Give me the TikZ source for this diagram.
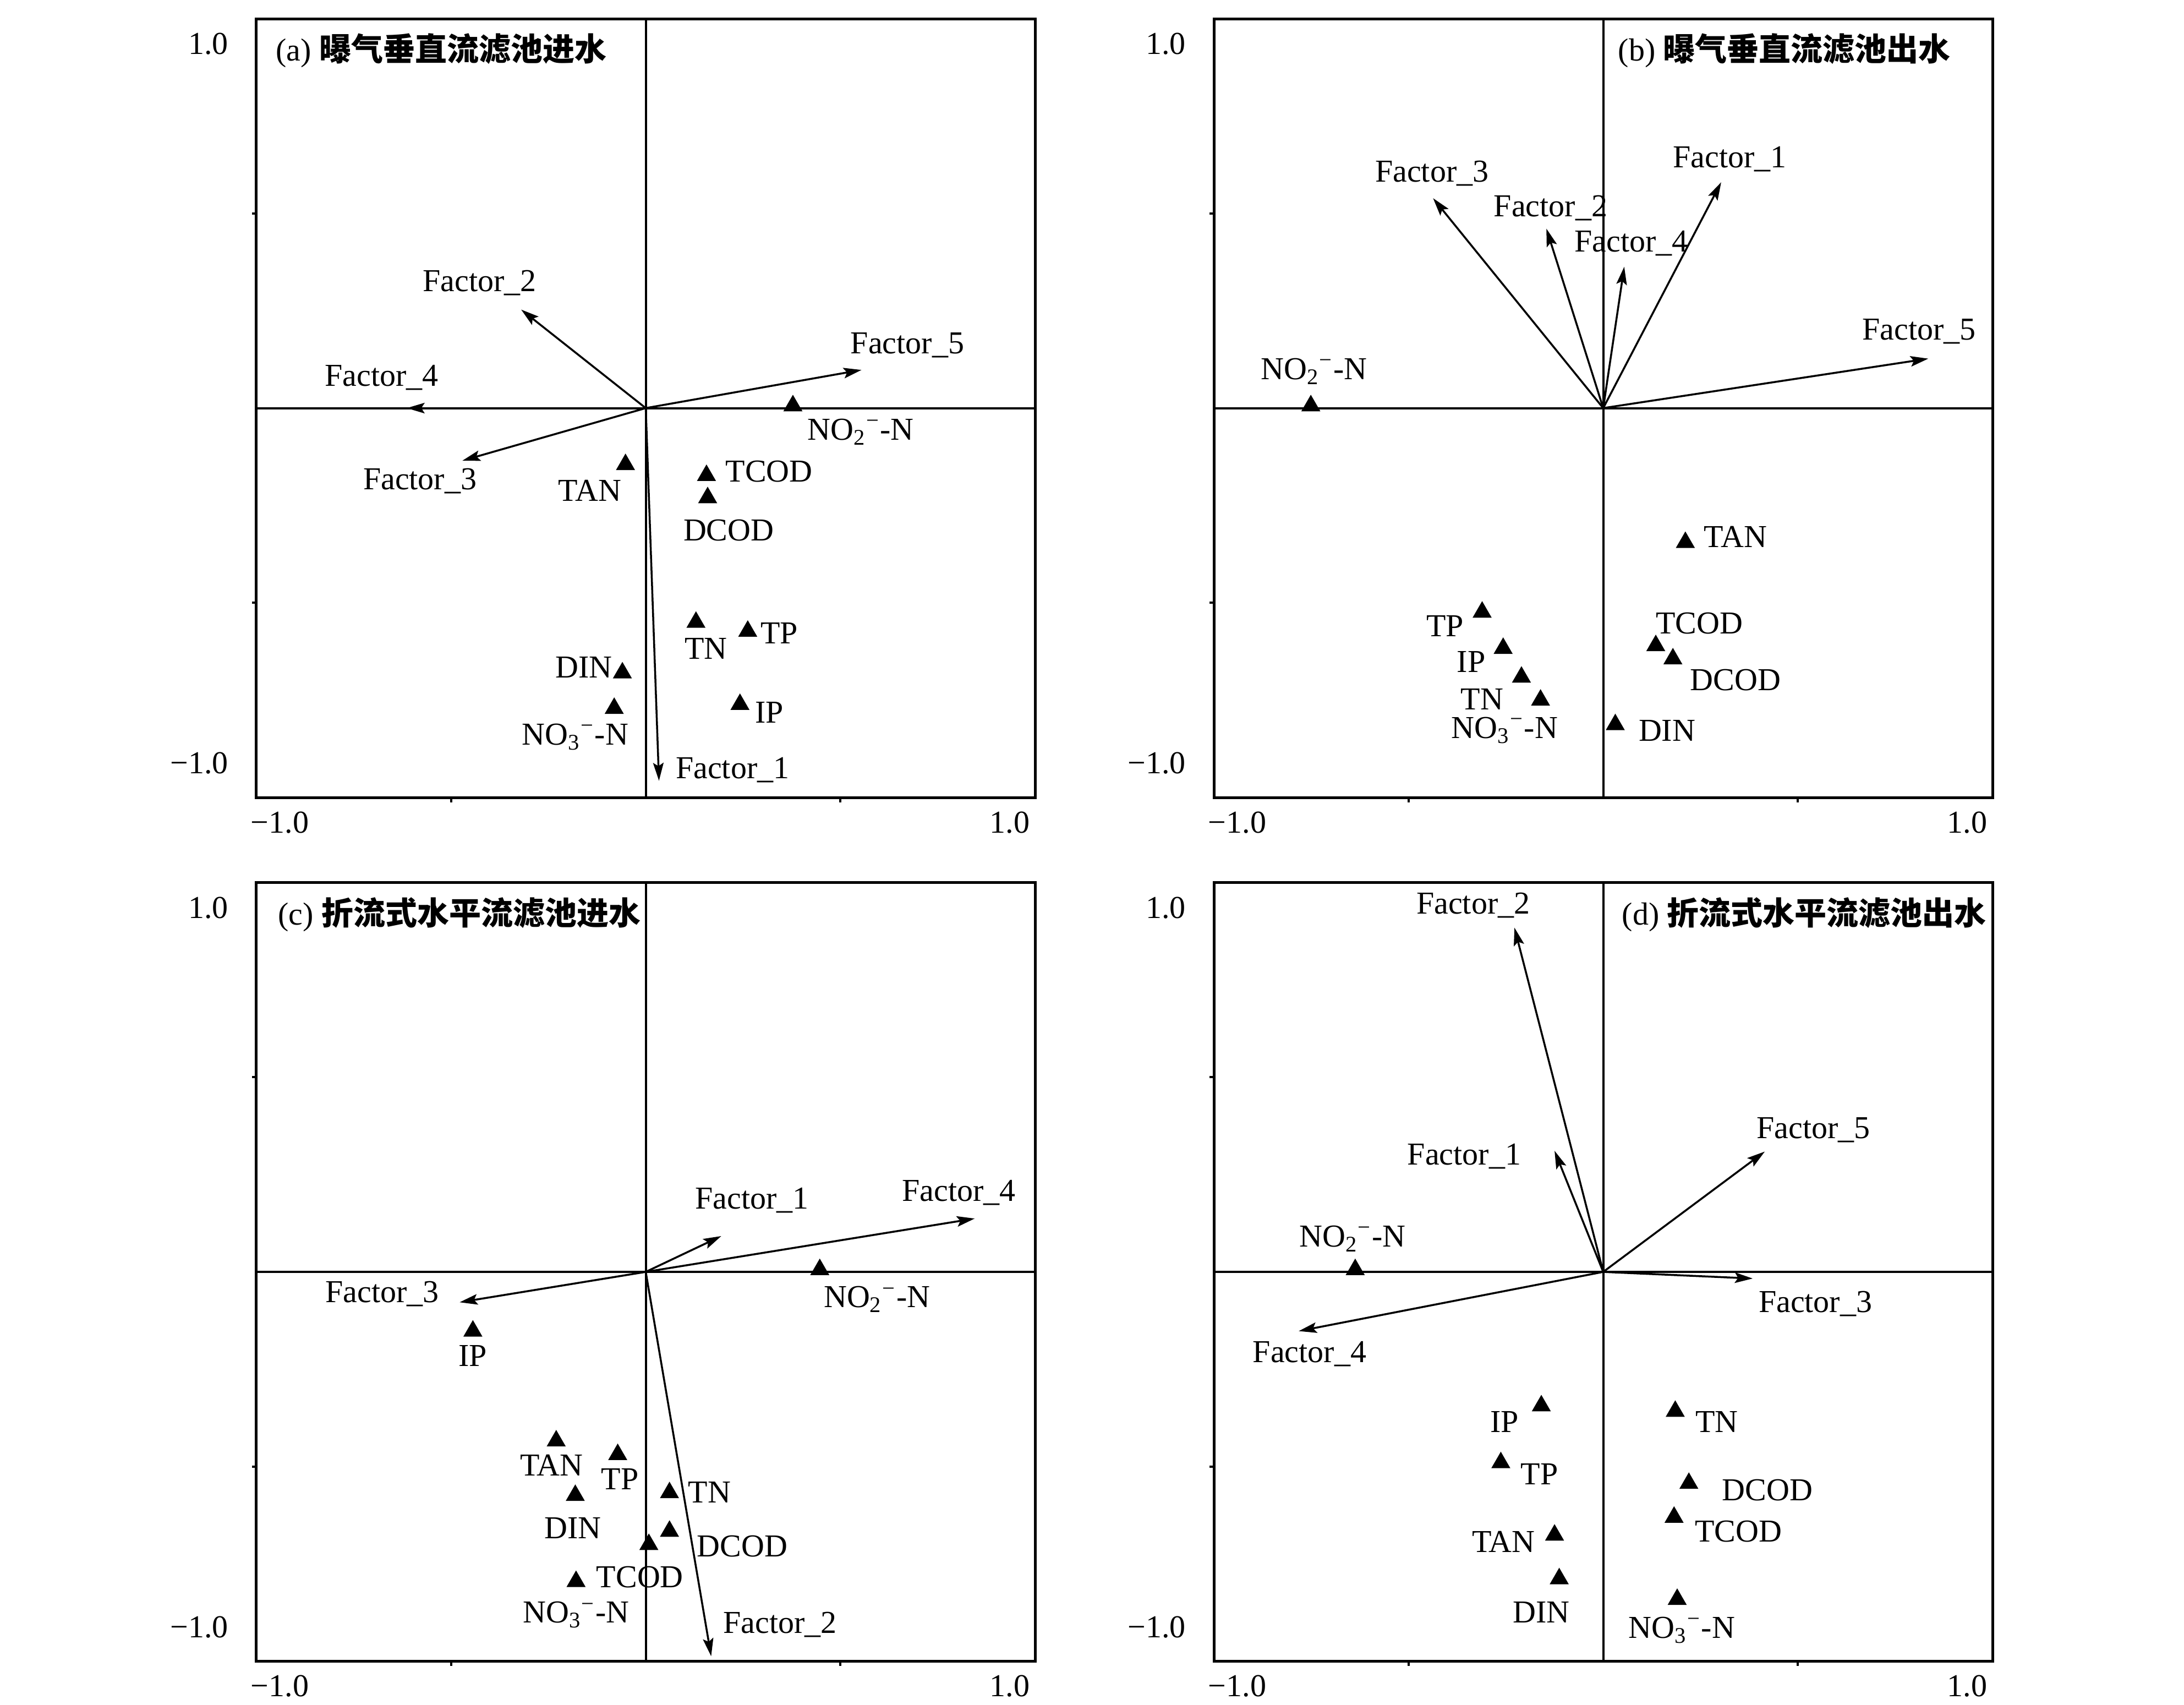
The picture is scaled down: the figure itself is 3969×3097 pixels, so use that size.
\documentclass[tikz,border=0pt]{standalone}
\usepackage{fontspec}
\setmainfont{Liberation Serif}
\newfontfamily\cjk{Noto Sans CJK SC}
\usetikzlibrary{shapes.geometric,arrows.meta}
\tikzset{
  frame/.style={line width=1.0pt},
  axisline/.style={line width=0.8pt},
  vec/.style={line width=0.7pt,-{Stealth[length=6.5pt,width=3.8pt,inset=1.2pt]}},
  tri/.style={regular polygon,regular polygon sides=3,fill=black,draw=none,inner sep=0pt,minimum size=8pt},
  lbl/.style={inner sep=0pt,font=\fontsize{11.6}{13}\selectfont},
  ticklbl/.style={inner sep=0pt,font=\fontsize{11.6}{13}\selectfont},
}
\newcommand\mkpt[6]{\node[tri] (#1) at (#2,#3) {}; \node[lbl] (#1l) at (#4,#5) {#6};}
\newcommand\mkvec[7]{\coordinate (#2) at (#3,#4); \draw[vec] (#1) -- (#2); \node[lbl] (#2l) at (#5,#6) {#7};}
\newcommand\panelframe[1]{%
  \draw[frame] (-1,-1) rectangle (1,1);
  \draw[axisline] (-1,0) -- (1,0);
  \draw[axisline] (0,-1) -- (0,1);
  \draw[axisline] (-1,0.5) -- (-1.012,0.5);
  \draw[axisline] (-1,-0.5) -- (-1.012,-0.5);
  \draw[axisline] (0.5,-1) -- (0.5,-1.012);
  \draw[axisline] (-0.5,-1) -- (-0.5,-1.012);
  \node[ticklbl,anchor=east] (#1t1) at (-1.071,0.935) {1.0};
  \node[ticklbl,anchor=east] (#1t2) at (-1.071,-0.912) {−1.0};
  \node[ticklbl] (#1t3) at (-0.94,-1.064) {−1.0};
  \node[ticklbl] (#1t4) at (0.935,-1.064) {1.0};
  \coordinate (#1O) at (0,0);
}
\newcommand\nodos[1]{NO\textsubscript{#1}\textsuperscript{−}-N}
\begin{document}
\begin{tikzpicture}[x=0.2pt,y=-0.2pt]
\useasboundingbox (0,0) rectangle (3969,3097);

% ---------- panel (a)
\begin{scope}[shift={(1173.5,741.5)},x=141.5pt,y=141.5pt]
\panelframe{a}
\node[lbl,anchor=west] (atitle) at (-0.951,0.918) {(a) {\cjk\bfseries 曝气垂直流滤池进水}};
\mkvec{aO}{aF2}{-0.320}{0.253}{-0.427}{0.321}{Factor\_2}
\mkvec{aO}{aF4}{-0.614}{0}{-0.678}{0.078}{Factor\_4}
\mkvec{aO}{aF3}{-0.471}{-0.135}{-0.580}{-0.187}{Factor\_3}
\mkvec{aO}{aF5}{0.554}{0.098}{0.672}{0.162}{Factor\_5}
\mkvec{aO}{aF1}{0.034}{-0.957}{0.223}{-0.929}{Factor\_1}
\mkpt{aNOb}{0.378}{0.006}{0.552}{-0.061}{\nodos{2}}
\mkpt{aTAN}{-0.052}{-0.145}{-0.144}{-0.212}{TAN}
\mkpt{aTCOD}{0.156}{-0.173}{0.317}{-0.162}{TCOD}
\mkpt{aDCOD}{0.159}{-0.230}{0.213}{-0.314}{DCOD}
\mkpt{aTN}{0.129}{-0.550}{0.155}{-0.617}{TN}
\mkpt{aTP}{0.262}{-0.573}{0.343}{-0.578}{TP}
\mkpt{aDIN}{-0.060}{-0.680}{-0.159}{-0.666}{DIN}
\mkpt{aIP}{0.242}{-0.761}{0.317}{-0.782}{IP}
\mkpt{aNOc}{-0.081}{-0.771}{-0.181}{-0.844}{\nodos{3}}
\end{scope}

% ---------- panel (b)
\begin{scope}[shift={(2913.5,741.5)},x=141.5pt,y=141.5pt]
\panelframe{b}
\node[lbl,anchor=west] (btitle) at (0.037,0.918) {(b) {\cjk\bfseries 曝气垂直流滤池出水}};
\mkvec{bO}{bF3}{-0.437}{0.539}{-0.440}{0.603}{Factor\_3}
\mkvec{bO}{bF2}{-0.146}{0.461}{-0.135}{0.514}{Factor\_2}
\mkvec{bO}{bF4}{0.054}{0.363}{0.072}{0.423}{Factor\_4}
\mkvec{bO}{bF1}{0.303}{0.580}{0.325}{0.640}{Factor\_1}
\mkvec{bO}{bF5}{0.835}{0.127}{0.811}{0.197}{Factor\_5}
\mkpt{bNOb}{-0.751}{0.006}{-0.743}{0.095}{\nodos{2}}
\mkpt{bTAN}{0.211}{-0.345}{0.340}{-0.331}{TAN}
\mkpt{bTP}{-0.311}{-0.524}{-0.406}{-0.559}{TP}
\mkpt{bTCOD}{0.135}{-0.610}{0.247}{-0.552}{TCOD}
\mkpt{bIP}{-0.257}{-0.617}{-0.339}{-0.651}{IP}
\mkpt{bDCOD}{0.179}{-0.644}{0.340}{-0.698}{DCOD}
\mkpt{bTN}{-0.210}{-0.691}{-0.311}{-0.747}{TN}
\mkpt{bNOc}{-0.161}{-0.750}{-0.253}{-0.827}{\nodos{3}}
\mkpt{bDIN}{0.031}{-0.813}{0.164}{-0.828}{DIN}
\end{scope}

% ---------- panel (c)
\begin{scope}[shift={(1173.5,2311)},x=141.5pt,y=141.5pt]
\panelframe{c}
\node[lbl,anchor=west] (ctitle) at (-0.946,0.918) {(c) {\cjk\bfseries 折流式水平流滤池进水}};
\mkvec{cO}{cF1}{0.194}{0.092}{0.273}{0.183}{Factor\_1}
\mkvec{cO}{cF4}{0.845}{0.137}{0.804}{0.204}{Factor\_4}
\mkvec{cO}{cF3}{-0.478}{-0.078}{-0.677}{-0.057}{Factor\_3}
\mkvec{cO}{cF2}{0.168}{-0.987}{0.345}{-0.906}{Factor\_2}
\mkpt{cNOb}{0.447}{0.006}{0.594}{-0.071}{\nodos{2}}
\mkpt{cIP}{-0.444}{-0.152}{-0.444}{-0.215}{IP}
\mkpt{cTAN}{-0.230}{-0.434}{-0.242}{-0.496}{TAN}
\mkpt{cTP}{-0.072}{-0.469}{-0.066}{-0.532}{TP}
\mkpt{cTN}{0.061}{-0.567}{0.164}{-0.566}{TN}
\mkpt{cDIN}{-0.181}{-0.574}{-0.187}{-0.658}{DIN}
\mkpt{cDCOD}{0.061}{-0.666}{0.248}{-0.704}{DCOD}
\mkpt{cTCOD}{0.008}{-0.700}{-0.015}{-0.784}{TCOD}
\mkpt{cNOc}{-0.179}{-0.795}{-0.179}{-0.881}{\nodos{3}}
\end{scope}

% ---------- panel (d)
\begin{scope}[shift={(2913.5,2311)},x=141.5pt,y=141.5pt]
\panelframe{d}
\node[lbl,anchor=west] (dtitle) at (0.047,0.918) {(d) {\cjk\bfseries 折流式水平流滤池出水}};
\mkvec{dO}{dF2}{-0.228}{0.884}{-0.334}{0.941}{Factor\_2}
\mkvec{dO}{dF1}{-0.125}{0.311}{-0.357}{0.297}{Factor\_1}
\mkvec{dO}{dF5}{0.415}{0.309}{0.540}{0.365}{Factor\_5}
\mkvec{dO}{dF3}{0.384}{-0.017}{0.545}{-0.082}{Factor\_3}
\mkvec{dO}{dF4}{-0.782}{-0.152}{-0.754}{-0.211}{Factor\_4}
\mkpt{dNOb}{-0.637}{0.006}{-0.644}{0.085}{\nodos{2}}
\mkpt{dIP}{-0.159}{-0.344}{-0.254}{-0.385}{IP}
\mkpt{dTN}{0.185}{-0.358}{0.292}{-0.385}{TN}
\mkpt{dTP}{-0.263}{-0.490}{-0.164}{-0.520}{TP}
\mkpt{dDCOD}{0.220}{-0.543}{0.422}{-0.560}{DCOD}
\mkpt{dTCOD}{0.182}{-0.630}{0.347}{-0.666}{TCOD}
\mkpt{dTAN}{-0.125}{-0.676}{-0.256}{-0.693}{TAN}
\mkpt{dDIN}{-0.113}{-0.788}{-0.159}{-0.874}{DIN}
\mkpt{dNOc}{0.190}{-0.841}{0.202}{-0.920}{\nodos{3}}
\end{scope}
\end{tikzpicture}
\end{document}
